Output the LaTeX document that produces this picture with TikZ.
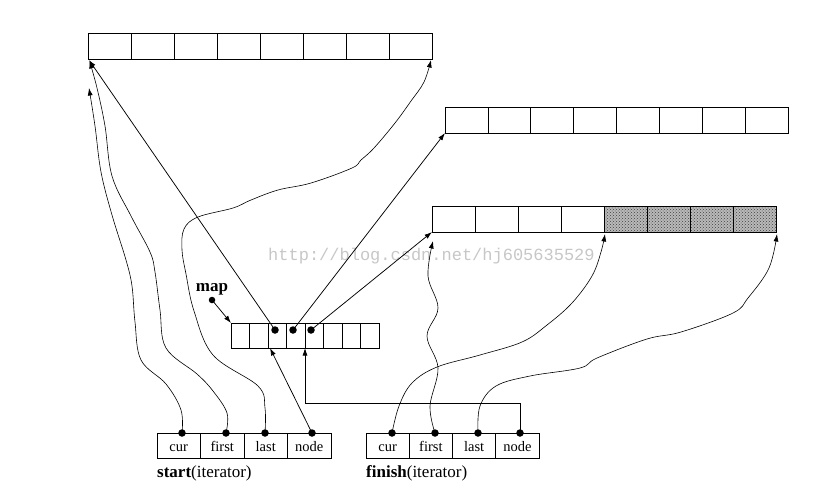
\documentclass[tikz,border=0pt]{standalone}
\usepackage{fontspec}
\setmainfont{Liberation Serif}
\newfontfamily\wmfont{Liberation Mono}
\usetikzlibrary{arrows.meta,calc,patterns}
\begin{document}
\begin{tikzpicture}[x=1pt,y=-1pt,
  cell/.style={draw,line width=0.8pt,minimum height=26pt,inner sep=0pt,outer sep=0pt},
  mcell/.style={draw,line width=0.8pt,minimum height=25pt,minimum width=18.5pt,inner sep=0pt,outer sep=0pt},
  icell/.style={draw,line width=0.8pt,minimum height=25pt,inner sep=0pt,outer sep=0pt,text height=12pt,text depth=0pt,font=\fontsize{14.5}{15}\selectfont},
  dot/.style={circle,fill=black,inner sep=0pt,minimum size=7.5pt},
  arr/.style={-{Latex[length=7.5pt,width=5pt]},line width=0.75pt},
  curvy/.style={-{Latex[length=7.5pt,width=5pt]},line width=0.6pt},
  lbl/.style={anchor=west,inner sep=0pt,font=\fontsize{17}{18}\selectfont},
  wm/.style={anchor=west,inner sep=0pt,text=black!22,font=\wmfont\fontsize{17}{17}\selectfont}
]
\useasboundingbox (0,0) rectangle (837,493);
% watermark
\node[wm] (wmark) at (268,256) {http://blog.csdn.net/hj605635529};
% buffer 1
\foreach \i in {1,...,8} \node[cell,minimum width=43pt] (a\i) at ({88+43*\i-21.5},46) {};
% buffer 2
\foreach \i in {1,...,8} \node[cell,minimum width=42.9pt] (b\i) at ({445+42.9*\i-21.45},120) {};
% buffer 3
\fill[gray!55] (604,206) rectangle (776,232);
\fill[pattern=crosshatch dots,pattern color=black!75] (604,206) rectangle (776,232);
\foreach \i in {1,...,8} \node[cell,minimum width=43pt] (c\i) at ({432+43*\i-21.5},219) {};
% map
\foreach \i in {1,...,8} \node[mcell] (m\i) at ({231+18.5*\i-9.25},335.5) {};
% iterators
\node[icell,minimum width=43.5pt] (s1) at (178.75,445.5) {cur};
\node[icell,minimum width=43.5pt] (s2) at (222.25,445.5) {first};
\node[icell,minimum width=43.5pt] (s3) at (265.75,445.5) {last};
\node[icell,minimum width=43.5pt] (s4) at (309.25,445.5) {node};
\node[icell,minimum width=43.25pt] (f1) at (387.6,445.5) {cur};
\node[icell,minimum width=43.25pt] (f2) at (430.9,445.5) {first};
\node[icell,minimum width=43.25pt] (f3) at (474.1,445.5) {last};
\node[icell,minimum width=43.25pt] (f4) at (517.4,445.5) {node};
\node[lbl] (slabel) at (157,473) {\textbf{start}(iterator)};
\node[lbl] (flabel) at (366,473) {\textbf{finish}(iterator)};
\node[lbl,anchor=center] (maplabel) at (212,289) {\textbf{map}};
% dots
\node[dot] (sd1) at (182,433) {};
\node[dot] (sd2) at (226,433) {};
\node[dot] (sd3) at (265,433) {};
\node[dot] (sd4) at (312,433) {};
\node[dot] (fd1) at (392,433) {};
\node[dot] (fd2) at (435,433) {};
\node[dot] (fd3) at (478,433) {};
\node[dot] (fd4) at (520,433) {};
\node[dot] (md3) at (275,330) {};
\node[dot] (md4) at (293,330) {};
\node[dot] (md5) at (311,330) {};
\node[dot,minimum size=6.5pt] (mapdot) at (212,300) {};
% targets
\coordinate (t1) at (89,60);
\coordinate (t1b) at (89,88);
\coordinate (t1e) at (431,60);
\coordinate (t2) at (445,133);
\coordinate (t3) at (432,232);
\coordinate (t3b) at (433,241);
\coordinate (t3m) at (605,234);
\coordinate (t3e) at (777,234);
\coordinate (turn) at (520,403);
\coordinate (mtgt) at (270,348);
% map pointer
\draw[arr] (mapdot.center) -- (m1.north west);
% map to buffers
\draw[arr] (md3.center) -- (t1);
\draw[arr] (md4.center) -- (t2);
\draw[arr] (md5.center) -- (t3);
% node pointers
\draw[arr] (sd4.center) -- (mtgt);
\draw[arr] (fd4.center) -- (turn) -| (m5.south west);
% start curves
\draw[curvy] plot[smooth,tension=0.6] coordinates {(sd1.center) (181,410) (166,384) (141,360) (135,322) (132,286) (126,260) (112,215) (101,172) (95,126) (t1b)};
\draw[curvy] plot[smooth,tension=0.6] coordinates {(sd2.center) (227,413) (213,391) (197,374) (166,348) (160,310) (155,272) (150,252) (131,216) (112,176) (105,126) (97,88) (89.5,61)};
\draw[curvy] plot[smooth,tension=0.6] coordinates {(sd3.center) (265,408) (258,386) (213,355) (194,311) (186,274) (182,250) (184,229) (198,217) (233,208) (251,200) (278,190) (311,183) (352,168) (361,160) (374,148) (395,123) (411,101) (424,82) (t1e)};
% finish curves
\draw[curvy] plot[smooth,tension=0.6] coordinates {(fd1.center) (399,406) (412,383) (437,367) (480,355) (522,342) (547,325) (572,303) (592,276) (601,252) (t3m)};
\draw[curvy] plot[smooth,tension=0.6] coordinates {(fd2.center) (430,406) (438,368) (427,336) (438,308) (428,276) (t3b)};
\draw[curvy] plot[smooth,tension=0.6] coordinates {(fd3.center) (480,406) (496,386) (530,376) (580,368) (597,358) (647,339) (681,332) (733,313) (748,298) (769,268) (t3e)};
\end{tikzpicture}
\end{document}
